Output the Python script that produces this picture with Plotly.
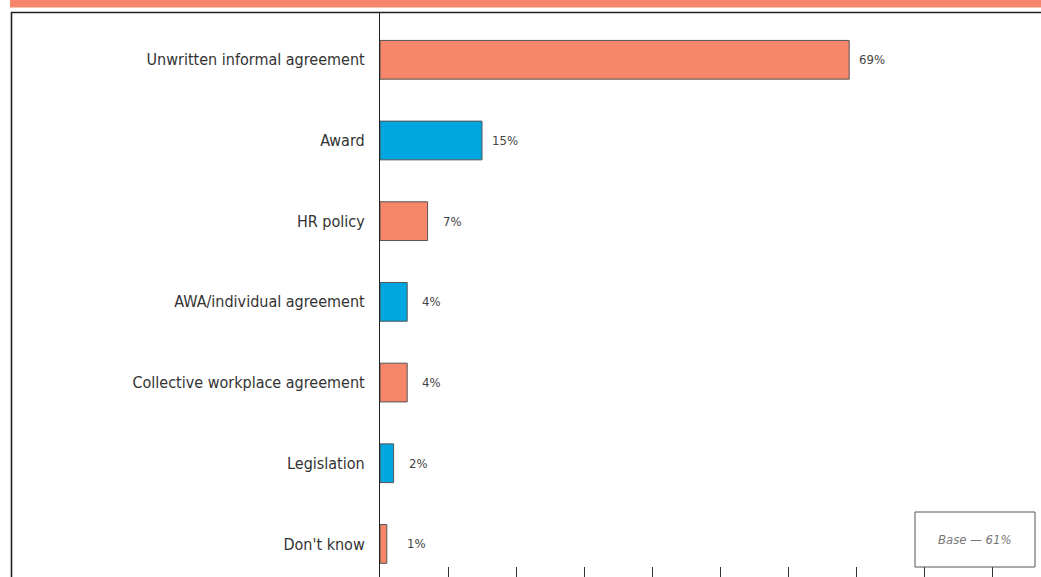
import plotly.graph_objects as go

# Survey responses: basis of the working arrangement
categories = [
    "Unwritten informal agreement",
    "Award",
    "HR policy",
    "AWA/individual agreement",
    "Collective workplace agreement",
    "Legislation",
    "Don't know",
]
shares = [69, 15, 7, 4, 4, 2, 1]
value_labels = ["69%", "15%", "7%", "4%", "4%", "2%", "1%"]
base_note = "Base — 61%"

ORANGE = "#F5866A"
BLUE = "#00A6E0"
bar_colors = [ORANGE if i % 2 == 0 else BLUE for i in range(len(categories))]

FONT = "Liberation Sans Narrow, DejaVu Sans Condensed, Arial Narrow, sans-serif"

W, H = 1041, 577
L, T = 380, 13  # plot-area left edge and top edge, px
PW, PH = W - L, H - T


def px_x(px):
    return (px - L) / PW


def px_y(py):
    return (H - py) / PH


fig = go.Figure()
fig.add_trace(
    go.Bar(
        x=shares,
        y=categories,
        orientation="h",
        width=0.48,
        marker=dict(color=bar_colors, line=dict(color="#555555", width=1)),
        hoverinfo="skip",
    )
)

# value labels just beyond each bar end
for cat, v, lab in zip(categories, shares, value_labels):
    fig.add_annotation(
        x=v, y=cat, text=lab, showarrow=False,
        xanchor="left", yanchor="middle",
        xshift=8 if v > 10 else (18 if v < 2 else 13),
        font=dict(family=FONT, size=13, color="#444444"),
    )

# base note box
fig.add_shape(
    type="rect", xref="paper", yref="paper",
    x0=px_x(915), x1=px_x(1035), y0=px_y(567), y1=px_y(512),
    line=dict(color="#555555", width=1), fillcolor="white",
)
fig.add_annotation(
    xref="paper", yref="paper", x=px_x(975), y=px_y(539.5),
    xanchor="center", yanchor="middle",
    text=f"<i>{base_note}</i>", showarrow=False,
    font=dict(family=FONT, size=13, color="#777777"),
)

# header band and panel frame
fig.add_shape(
    type="rect", xref="paper", yref="paper",
    x0=px_x(10), x1=px_x(1045), y0=px_y(7.5), y1=px_y(-2),
    line=dict(width=0), fillcolor="#F5866A",
)
fig.add_shape(
    type="line", xref="paper", yref="paper",
    x0=px_x(11), x1=px_x(1045), y0=px_y(12.5), y1=px_y(12.5),
    line=dict(color="#222222", width=1.6),
)
fig.add_shape(
    type="line", xref="paper", yref="paper",
    x0=px_x(11.5), x1=px_x(11.5), y0=px_y(12), y1=px_y(580),
    line=dict(color="#222222", width=1.6),
)

fig.update_layout(
    width=W, height=H,
    margin=dict(l=L, r=0, t=T, b=0),
    paper_bgcolor="white", plot_bgcolor="white",
    showlegend=False,
    bargap=0.5,
)
fig.update_xaxes(
    range=[0, PW / 6.8], tickvals=list(range(0, 100, 10)),
    showticklabels=False, ticks="inside", ticklen=10, tickcolor="#333333",
    showgrid=False, zeroline=False, showline=False, fixedrange=True,
)
fig.update_yaxes(
    range=[6.41, -0.58], showgrid=False, zeroline=False,
    showline=True, linecolor="#222222", linewidth=1.2,
    ticks="", ticklabelstandoff=11,
    tickfont=dict(family=FONT, size=16, color="#333333"),
    fixedrange=True,
)

fig.write_html("out.html")
